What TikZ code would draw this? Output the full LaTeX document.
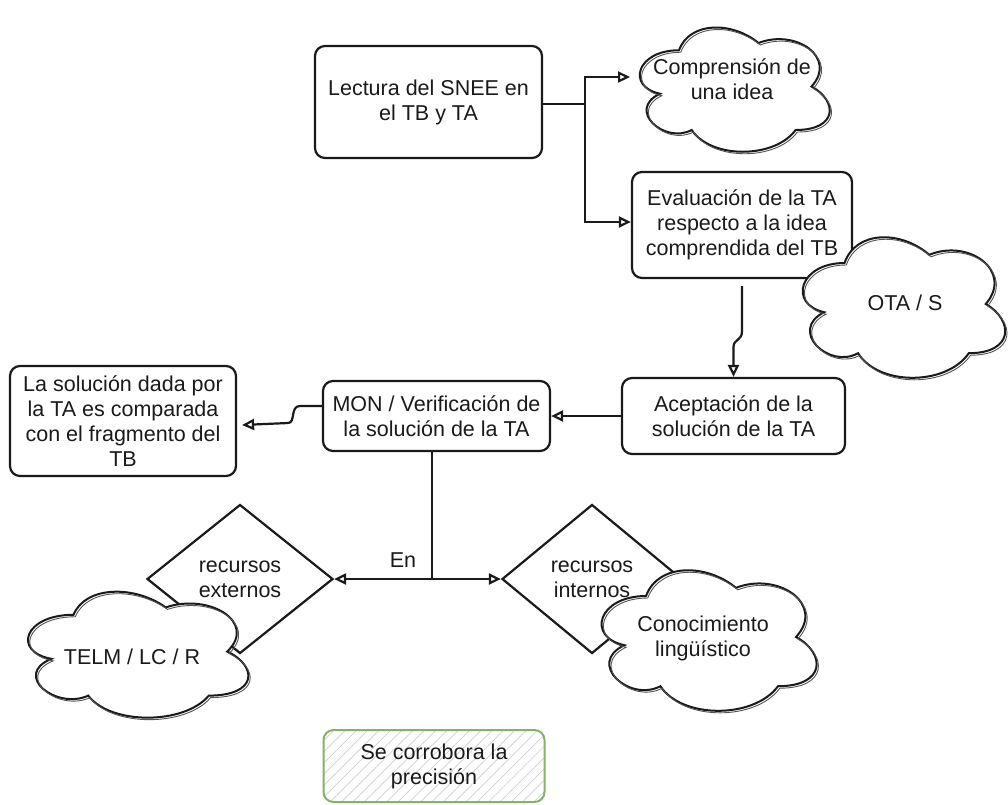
\documentclass[tikz,border=0pt]{standalone}
\usepackage{fontspec}
\setmainfont{Liberation Sans}
\usetikzlibrary{arrows.meta,shapes.geometric,calc,patterns.meta}
\definecolor{ink}{HTML}{1A1A1A}
\definecolor{leaf}{HTML}{82B366}
\definecolor{hatch}{HTML}{CFCFCF}

\tikzset{
  every node/.style={font=\fontsize{21.5}{25}\selectfont, text=ink, align=center},
  box/.style={draw=ink, line width=2.2pt, rounded corners=10pt, fill=white, inner sep=0pt},
  greenbox/.style={draw=leaf, line width=2pt, rounded corners=10pt, inner sep=0pt,
    pattern={Lines[angle=45,distance=8pt,line width=0.7pt]}, pattern color=hatch},
  diam/.style={draw=ink, line width=2.2pt, diamond, fill=white, inner sep=0pt},
  wire/.style={draw=ink, line width=2.2pt},
  arr/.style={draw=ink, line width=2.2pt, -{Triangle[open,length=12pt,width=11pt]}},
  cloudline/.style={draw=ink, line width=2pt, fill=white},
  cloudecho/.style={draw=ink!75, line width=0.9pt},
}

% cloud outline inside the box with top-left corner (#1,#2), width #3, height #4
\newcommand\drawcloud[4]{%
  \filldraw[cloudline, shift={(#1,#2)}, x=#3pt, y=-#4pt]
    (0.25,0.25) .. controls (0.05,0.25) and (0,0.5) .. (0.16,0.55)
    .. controls (0,0.66) and (0.18,0.9) .. (0.31,0.8)
    .. controls (0.4,1) and (0.7,1) .. (0.8,0.8)
    .. controls (1,0.8) and (1,0.6) .. (0.875,0.5)
    .. controls (1,0.3) and (0.8,0.1) .. (0.625,0.2)
    .. controls (0.5,0.05) and (0.3,0.05) .. (0.25,0.25) -- cycle;
  \draw[cloudecho, shift={(#1+1.8,#2+2)}, x=#3pt, y=-#4pt]
    (0.25,0.25) .. controls (0.05,0.25) and (0,0.5) .. (0.16,0.55)
    .. controls (0,0.66) and (0.18,0.9) .. (0.31,0.8)
    .. controls (0.4,1) and (0.7,1) .. (0.8,0.8)
    .. controls (1,0.8) and (1,0.6) .. (0.875,0.5)
    .. controls (1,0.3) and (0.8,0.1) .. (0.625,0.2)
    .. controls (0.5,0.05) and (0.3,0.05) .. (0.25,0.25);
}

\begin{document}
\begin{tikzpicture}[x=1pt,y=-1pt]
\fill[white] (0,0) rectangle (1008,804);
\useasboundingbox (0,0) rectangle (1008,804);

% process boxes
\node[box, minimum width=227pt, minimum height=112pt] (A) at (428.5,102) {Lectura del SNEE en\\el TB y TA};
\node[box, minimum width=220pt, minimum height=106pt] (B) at (742,225) {Evaluación de la TA\\respecto a la idea\\comprendida del TB};
\node[box, minimum width=223pt, minimum height=76pt] (C) at (733.5,416) {Aceptación de la\\solución de la TA};
\node[box, minimum width=227pt, minimum height=70pt] (D) at (436.5,416) {MON / Verificación de\\la solución de la TA};
\node[box, minimum width=226pt, minimum height=110pt] (E) at (123,421) {La solución dada por\\la TA es comparada\\con el fragmento del\\TB};
\node[greenbox, minimum width=221pt, minimum height=72pt] (F) at (434,766) {Se corrobora la\\precisión};

% decision diamonds
\node[diam, minimum width=186pt, minimum height=149pt] (X) at (240,579) {recursos\\externos};
\node[diam, minimum width=180pt, minimum height=149pt] (I) at (592,579) {recursos\\internos};

% connectors
\coordinate (split) at (585,104);
\coordinate (c1in) at (630,77);
\draw[wire] (A.east |- split) -- (split);
\draw[arr] (split) |- (c1in);
\draw[arr] (split) |- ([yshift=3pt]B.west);
\draw[arr] ([yshift=-7pt]B.south) -- ++(0,45)
  .. controls +(0,10) and +(0,-8) .. ($(C.north)+(0,-30)$) -- (C.north);
\draw[arr] (C.west) -- (D.east);
\draw[arr] ([yshift=10pt]D.west) -- ++(-22,0)
  .. controls +(-10,0) and +(8,0) .. ++(-12,17) -- ([xshift=5pt,yshift=-4pt]E.east);
\coordinate (fork) at (432,579);
\draw[wire] (D.south -| fork) -- (fork);
\draw[arr] (fork) -- (X.east);
\draw[arr] (fork) -- (I.west);
\node (en) at (403,560) {En};

% clouds
\drawcloud{626}{14}{212}{145}
\node (c1) at (732,79) {Comprensión de\\una idea};
\drawcloud{788}{222}{226}{164}
\node (c2) at (905,303) {OTA / S};
\drawcloud{12}{578}{246}{147}
\node (c3) at (132,657) {TELM / LC / R};
\drawcloud{586}{555}{240}{164}
\node (c4) at (703,638) {Conocimiento\\lingüístico};
\end{tikzpicture}
\end{document}
